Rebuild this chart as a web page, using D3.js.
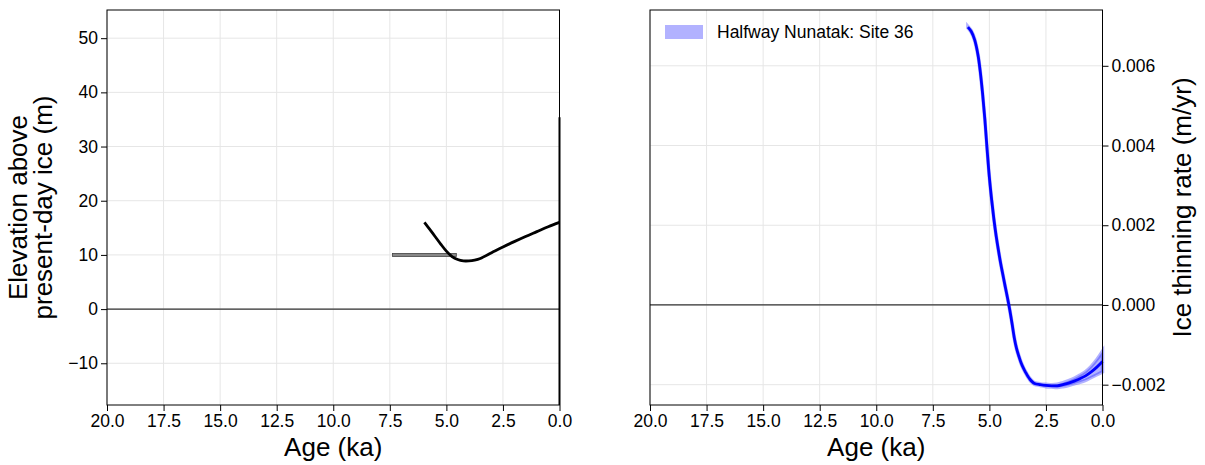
<!DOCTYPE html>
<html>
<head>
<meta charset="utf-8">
<script src="https://cdn.jsdelivr.net/npm/d3@7"></script>
<style>
  body { margin: 0; background: #fff; }
  svg { display: block; font-family: "Liberation Sans", Arial, Helvetica, sans-serif; }
</style>
</head>
<body>
<svg id="chart" width="1205" height="465"></svg>
<script>
// Shared age axis (ka), plotted with age decreasing to the right
const ageTicks = [20, 17.5, 15, 12.5, 10, 7.5, 5, 2.5, 0];

// Modelled elevation above present-day ice (m)
const elevAge = [5.97, 5.75, 5.5, 5.25, 5.0, 4.75, 4.5, 4.25, 4.0, 3.75, 3.5, 3.0, 2.5, 2.0, 1.5, 1.0, 0.5, 0.0];
const elevValue = [16.0, 14.8, 13.4, 12.0, 10.7, 9.7, 9.15, 8.9, 8.9, 9.05, 9.35, 10.4, 11.45, 12.45, 13.4, 14.3, 15.2, 16.0];
const elevTicks = [-10, 0, 10, 20, 30, 40, 50];

// Exposure-age sample: age with uncertainty, elevation
const sampleAge = 5.97;
const sampleAgeErr = 1.41;
const sampleElev = 10;

// Present-day marker at age 0
const presentTop = 35.4;

// Ice thinning rate (m/yr) with uncertainty envelope
const rateAge = [5.95, 5.8, 5.65, 5.5, 5.4, 5.3, 5.2, 5.1, 5.0, 4.9, 4.8, 4.7, 4.6, 4.5, 4.4, 4.3, 4.2, 4.1, 4.0, 3.9, 3.8, 3.7, 3.6, 3.5, 3.4, 3.3, 3.2, 3.1, 3.0, 2.75, 2.5, 2.25, 2.0, 1.75, 1.5, 1.25, 1.0, 0.75, 0.5, 0.25, 0.0];
const rateValue = [0.00697, 0.00686, 0.00665, 0.00626, 0.00584, 0.00530, 0.00466, 0.00390, 0.00320, 0.00264, 0.00215, 0.00173, 0.00137, 0.00104, 0.00075, 0.00046, 0.00018, -0.00012, -0.00046, -0.00082, -0.00109, -0.00128, -0.00145, -0.00158, -0.00169, -0.00179, -0.00187, -0.00193, -0.00197, -0.00200, -0.00202, -0.00203, -0.00203, -0.00200, -0.00196, -0.00191, -0.00185, -0.00178, -0.00168, -0.00156, -0.00142];
const rateSpread = [0.00002, 0.00002, 0.00002, 0.00002, 0.00002, 0.00002, 0.00002, 0.00002, 0.00002, 0.00002, 0.00002, 0.00002, 0.00002, 0.00002, 0.00002, 0.00002, 0.00002, 0.00002, 0.00002, 0.00002, 0.00002, 0.00002, 0.00002, 0.00002, 0.00002, 0.00002, 0.00002, 0.00002, 0.00002, 0.00002, 0.00003, 0.00003, 0.00004, 0.00005, 0.00006, 0.00007, 0.00009, 0.00011, 0.00014, 0.00019, 0.00026];
const rateTicks = [-0.002, 0, 0.002, 0.004, 0.006];
const seriesName = "Halfway Nunatak: Site 36";

const svg = d3.select("#chart");
const plotTop = 10, plotBottom = 405;
const panels = { left: [107, 559.5], right: [650, 1102.5] };

const gridColor = "#e6e6e6";
const tickFont = "17.5px";

function ageScale(range) {
  return d3.scaleLinear().domain([20, 0]).range(range);
}

function drawPanelBase(x, y, yTicks, yFmt, yOnRight) {
  const g = svg.append("g");
  // grid
  g.selectAll(".gx").data(ageTicks).join("line")
    .attr("x1", d => x(d)).attr("x2", d => x(d))
    .attr("y1", plotTop).attr("y2", plotBottom)
    .attr("stroke", gridColor).attr("stroke-width", 1);
  g.selectAll(".gy").data(yTicks).join("line")
    .attr("x1", x.range()[0]).attr("x2", x.range()[1])
    .attr("y1", d => y(d)).attr("y2", d => y(d))
    .attr("stroke", gridColor).attr("stroke-width", 1);
  // zero line
  g.append("line")
    .attr("x1", x.range()[0]).attr("x2", x.range()[1])
    .attr("y1", y(0)).attr("y2", y(0))
    .attr("stroke", "#333").attr("stroke-width", 1.2);
  // x axis
  const xa = svg.append("g").attr("transform", `translate(0,${plotBottom})`)
    .call(d3.axisBottom(x).tickValues(ageTicks).tickFormat(d3.format(".1f")).tickSize(6).tickSizeOuter(0));
  xa.select(".domain").remove();
  xa.selectAll("text").attr("font-size", tickFont).attr("fill", "#000").attr("dy", "0.76em");
  xa.selectAll("line").attr("stroke", "#000");
  // y axis
  const ax = yOnRight ? d3.axisRight(y) : d3.axisLeft(y);
  const ya = svg.append("g").attr("transform", `translate(${yOnRight ? x.range()[1] : x.range()[0]},0)`)
    .call(ax.tickValues(yTicks).tickFormat(yFmt).tickSize(6).tickSizeOuter(0));
  ya.select(".domain").remove();
  ya.selectAll("text").attr("font-size", tickFont).attr("fill", "#000");
  ya.selectAll("line").attr("stroke", "#000");
  return g;
}

function drawFrame(x) {
  svg.append("rect")
    .attr("x", x.range()[0]).attr("y", plotTop)
    .attr("width", x.range()[1] - x.range()[0]).attr("height", plotBottom - plotTop)
    .attr("fill", "none").attr("stroke", "#000").attr("stroke-width", 1);
}

// ---------- Left panel: elevation ----------
const xL = ageScale(panels.left);
const yL = d3.scaleLinear().domain([-17.7, 55.2]).range([plotBottom, plotTop]);
drawPanelBase(xL, yL, elevTicks, d3.format("d"), false);

// sample age uncertainty bar
const barH = 3;
svg.append("rect")
  .attr("x", xL(sampleAge + sampleAgeErr))
  .attr("width", xL(sampleAge - sampleAgeErr) - xL(sampleAge + sampleAgeErr))
  .attr("y", yL(sampleElev) - barH / 2).attr("height", barH)
  .attr("fill", "#888").attr("stroke", "#444").attr("stroke-width", 0.8);

const elevLine = d3.line()
  .x((d, i) => xL(elevAge[i]))
  .y(d => yL(d))
  .curve(d3.curveCatmullRom.alpha(0.5));
svg.append("path").datum(elevValue)
  .attr("d", elevLine)
  .attr("fill", "none").attr("stroke", "#000").attr("stroke-width", 2.8)
  .attr("stroke-linecap", "butt");

drawFrame(xL);

// present-day marker
svg.append("line")
  .attr("x1", xL(0)).attr("x2", xL(0))
  .attr("y1", yL(presentTop)).attr("y2", plotBottom)
  .attr("stroke", "#000").attr("stroke-width", 2);

// ---------- Right panel: thinning rate ----------
const xR = ageScale(panels.right);
const yR = d3.scaleLinear().domain([-0.00251, 0.0074]).range([plotBottom, plotTop]);
drawPanelBase(xR, yR, rateTicks, d3.format(".3f"), true);

const band = d3.area()
  .x((d, i) => xR(rateAge[i]))
  .y0((d, i) => yR(d - rateSpread[i]))
  .y1((d, i) => yR(d + rateSpread[i]))
  .curve(d3.curveCatmullRom.alpha(0.5));
svg.append("path").datum(rateValue)
  .attr("d", band)
  .attr("fill", "#0000ff").attr("fill-opacity", 0.3)
  .attr("stroke", "#0000ff").attr("stroke-opacity", 0.3).attr("stroke-width", 3.5);

const rateLine = d3.line()
  .x((d, i) => xR(rateAge[i]))
  .y(d => yR(d))
  .curve(d3.curveCatmullRom.alpha(0.5));
svg.append("path").datum(rateValue)
  .attr("d", rateLine)
  .attr("fill", "none").attr("stroke", "#0000ff").attr("stroke-width", 2.8);

drawFrame(xR);

// legend
const lg = svg.append("g");
lg.append("rect").attr("x", 665).attr("y", 25).attr("width", 38).attr("height", 14)
  .attr("fill", "#0000ff").attr("fill-opacity", 0.3);
lg.append("text").attr("x", 717).attr("y", 37.5).attr("font-size", "17.5px").attr("fill", "#000")
  .text(seriesName);

// ---------- Axis titles ----------
const titleSize = "26px";
svg.append("text").attr("x", (panels.left[0] + panels.left[1]) / 2).attr("y", 456)
  .attr("text-anchor", "middle").attr("font-size", titleSize).text("Age (ka)");
svg.append("text").attr("x", (panels.right[0] + panels.right[1]) / 2).attr("y", 456)
  .attr("text-anchor", "middle").attr("font-size", titleSize).text("Age (ka)");

const yt = svg.append("text")
  .attr("transform", `translate(0,${(plotTop + plotBottom) / 2}) rotate(-90)`)
  .attr("text-anchor", "middle").attr("font-size", titleSize);
yt.append("tspan").attr("x", 0).attr("y", 27).text("Elevation above");
yt.append("tspan").attr("x", 0).attr("y", 52).text("present-day ice (m)");

svg.append("text")
  .attr("transform", `translate(1191,${(plotTop + plotBottom) / 2}) rotate(-90)`)
  .attr("text-anchor", "middle").attr("font-size", titleSize).text("Ice thinning rate (m/yr)");
</script>
</body>
</html>
